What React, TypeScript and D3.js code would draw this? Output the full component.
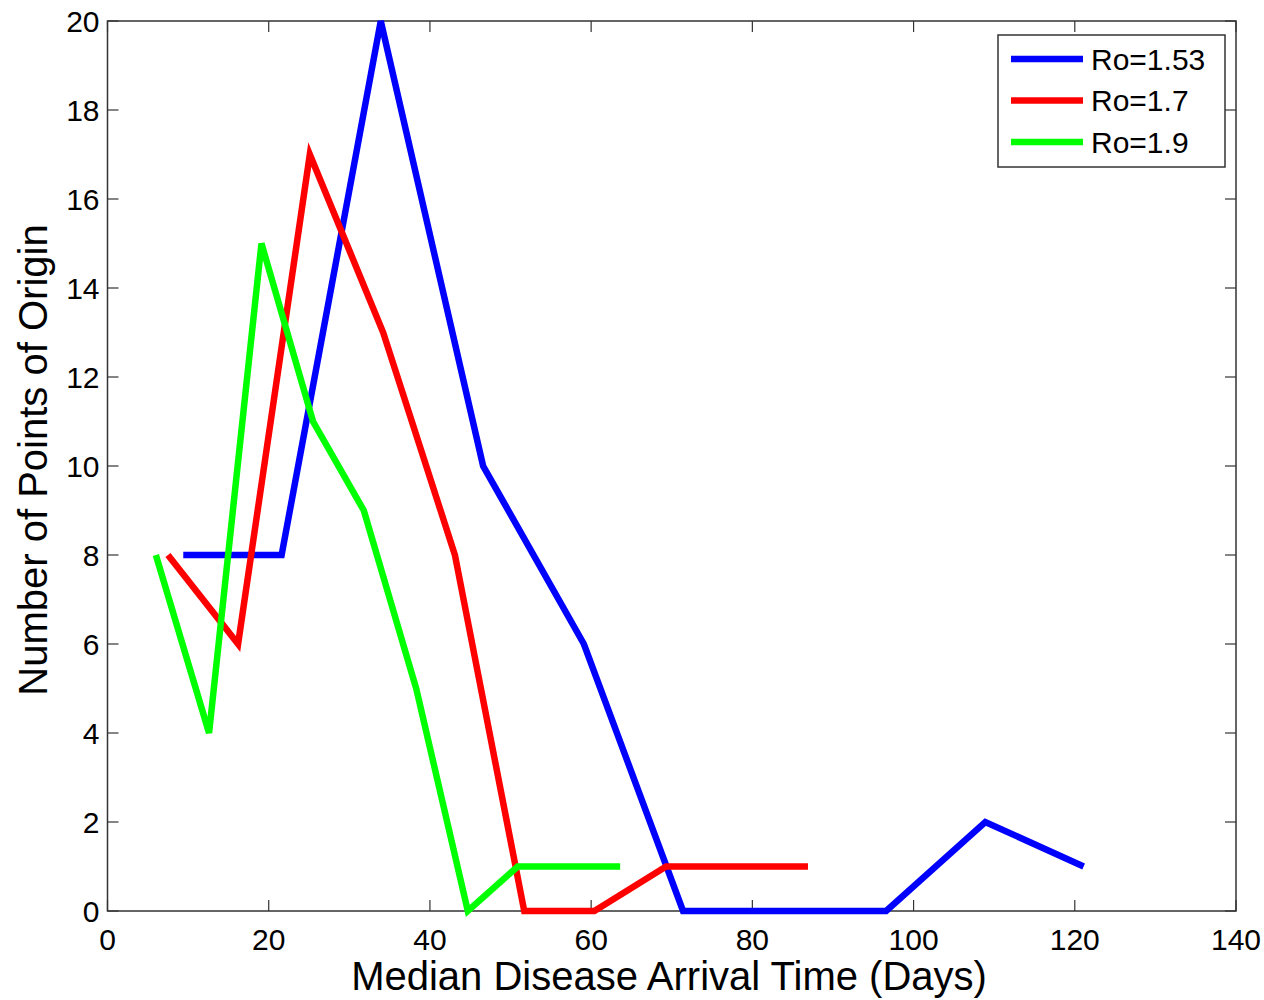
import React from 'react';
import * as d3 from 'd3';

const seriesNames = ['Ro=1.53', 'Ro=1.7', 'Ro=1.9'];
const seriesColors = ['#0000ff', '#ff0000', '#00ff00'];

const blueX = [9.4, 21.6, 33.9, 46.6, 59.1, 71.4, 96.6, 108.9, 121.1];
const blueY = [8, 8, 20, 10, 6, 0, 0, 2, 1];
const redX = [7.5, 16.2, 25.1, 34.2, 43.1, 51.7, 60.4, 69.3, 86.9];
const redY = [8, 6, 17, 13, 8, 0, 0, 1, 1];
const greenX = [6.0, 12.6, 19.1, 25.5, 31.8, 38.3, 44.7, 50.9, 63.6];
const greenY = [8, 4, 15, 11, 9, 5, 0, 1, 1];

const xTicks = [0, 20, 40, 60, 80, 100, 120, 140];
const yTicks = [0, 2, 4, 6, 8, 10, 12, 14, 16, 18, 20];

const W = 1264;
const H = 1000;
const margin = { left: 107.5, top: 21, right: 28, bottom: 89 };
const font = 'Liberation Sans, Arial, sans-serif';

export default function App() {
  const x = d3.scaleLinear().domain([0, 140]).range([margin.left, W - margin.right]);
  const y = d3.scaleLinear().domain([0, 20]).range([H - margin.bottom, margin.top]);
  const line = d3.line<[number, number]>().x(d => x(d[0])).y(d => y(d[1]));
  const series = [
    blueX.map((v, i) => [v, blueY[i]] as [number, number]),
    redX.map((v, i) => [v, redY[i]] as [number, number]),
    greenX.map((v, i) => [v, greenY[i]] as [number, number]),
  ];
  const x0 = x(0), x1 = x(140), y0 = y(0), y1 = y(20);
  const tick = 11;
  const axisColor = '#333';
  return (
    <svg width={W} height={H} style={{ position: 'absolute', left: 0, top: 0, background: '#fff' }}>
      <rect x={0} y={0} width={W} height={H} fill="#fff" />
      {xTicks.map(t => (
        <g key={'xt' + t}>
          <line x1={x(t)} x2={x(t)} y1={y0} y2={y0 - tick} stroke={axisColor} strokeWidth={1.2} />
          <line x1={x(t)} x2={x(t)} y1={y1} y2={y1 + tick} stroke={axisColor} strokeWidth={1.2} />
          <text x={x(t)} y={y0 + 39} textAnchor="middle" fontFamily={font} fontSize={30}>{t}</text>
        </g>
      ))}
      {yTicks.map(t => (
        <g key={'yt' + t}>
          <line x1={x0} x2={x0 + tick} y1={y(t)} y2={y(t)} stroke={axisColor} strokeWidth={1.2} />
          <line x1={x1} x2={x1 - tick} y1={y(t)} y2={y(t)} stroke={axisColor} strokeWidth={1.2} />
          <text x={x0 - 8} y={y(t) + 10.5} textAnchor="end" fontFamily={font} fontSize={30}>{t}</text>
        </g>
      ))}
      <rect x={x0} y={y1} width={x1 - x0} height={y0 - y1} fill="none" stroke={axisColor} strokeWidth={1.5} />
      {series.map((s, i) => (
        <path key={i} d={line(s) || ''} fill="none" stroke={seriesColors[i]} strokeWidth={6.5} strokeLinejoin="miter" />
      ))}
      <g>
        <rect x={998} y={35} width={227} height={132} fill="#fff" stroke={axisColor} strokeWidth={1.5} />
        {seriesNames.map((n, i) => (
          <g key={n}>
            <line x1={1011} x2={1083} y1={59 + i * 41.5} y2={59 + i * 41.5} stroke={seriesColors[i]} strokeWidth={6.5} />
            <text x={1091} y={59 + i * 41.5 + 10.5} fontFamily={font} fontSize={30}>{n}</text>
          </g>
        ))}
      </g>
      <text x={669} y={990} textAnchor="middle" fontFamily={font} fontSize={40}>Median Disease Arrival Time (Days)</text>
      <text transform={`translate(47,460) rotate(-90)`} textAnchor="middle" fontFamily={font} fontSize={40}>Number of Points of Origin</text>
    </svg>
  );
}
